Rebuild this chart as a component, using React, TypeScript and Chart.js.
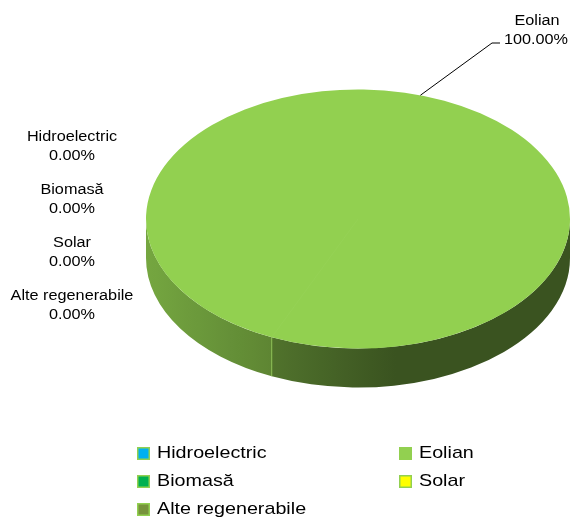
import React, { useEffect, useRef } from 'react';
import { Chart, registerables } from 'chart.js';

Chart.register(...registerables);

// ---- data ----
const categories = ['Hidroelectric', 'Eolian', 'Biomasă', 'Solar', 'Alte regenerabile'];
const values = [0, 100, 0, 0, 0];
const sliceColors = ['#00B0F0', '#92D050', '#00B050', '#FFFF00', '#77933C'];

// ---- style / layout ----
const LEGEND_BORDER = '#92D050';
const TILT = 129.5 / 212;
const DEPTH = 39;
const FONT = '"Liberation Sans", Arial, sans-serif';
const TEXT_STRETCH = 1.16;
const LEADER_ANGLE_SHIFT = -0.12;
const TAU = Math.PI * 2;

const norm = (a: number) => ((a % TAU) + TAU) % TAU;

function rgb(hex: string) {
  const n = parseInt(hex.slice(1), 16);
  return [(n >> 16) & 255, (n >> 8) & 255, n & 255];
}
function shade(hex: string, f: number) {
  const [r, g, b] = rgb(hex);
  const c = (v: number) => Math.max(0, Math.min(255, Math.round(v * f)));
  return `rgb(${c(r)},${c(g)},${c(b)})`;
}

function stretchedText(ctx: CanvasRenderingContext2D, text: string, x: number, y: number, size: number, align: CanvasTextAlign) {
  ctx.save();
  ctx.font = `${size}px ${FONT}`;
  ctx.textBaseline = 'middle';
  ctx.textAlign = align;
  ctx.fillStyle = '#000000';
  ctx.translate(x, y);
  ctx.scale(TEXT_STRETCH, 1);
  ctx.fillText(text, 0, 0);
  ctx.restore();
}

const pie3d = {
  id: 'pie3d',
  beforeDatasetsDraw(chart: any) {
    const arcs = chart.getDatasetMeta(0).data as any[];
    const a0 = arcs[0];
    const cx = a0.x, cy = a0.y, r = a0.outerRadius;
    const ctx: CanvasRenderingContext2D = chart.ctx;
    ctx.save();
    ctx.translate(cx, cy);
    ctx.scale(1, TILT);
    ctx.translate(-cx, -cy);
    const d = DEPTH / TILT;

    const bounds = [0, Math.PI];
    arcs.forEach((a) => {
      const s = norm(a.startAngle);
      if (s > 1e-6 && s < Math.PI - 1e-6) bounds.push(s);
    });
    bounds.sort((p, q) => p - q);
    const segs: { lo: number; hi: number; idx: number }[] = [];
    for (let i = 0; i < bounds.length - 1; i++) {
      const lo = bounds[i], hi = bounds[i + 1];
      if (hi - lo < 1e-6) continue;
      const mid = (lo + hi) / 2;
      const idx = arcs.findIndex((a) => a.circumference > 0 && norm(mid - a.startAngle) < a.circumference);
      if (idx >= 0) segs.push({ lo, hi, idx });
    }
    segs.sort((p, q) => q.hi - p.hi);
    segs.forEach((sg, k) => {
      const xl = cx + r * Math.cos(sg.hi);
      const xr = cx + r * Math.cos(sg.lo);
      const base = sliceColors[sg.idx];
      const g = ctx.createLinearGradient(xl, 0, xr, 0);
      for (let j = 0; j <= 12; j++) {
        const x = xl + ((xr - xl) * j) / 12;
        const f = Math.max(0.4, Math.max(0.49, 0.8 - 0.00126 * (x - (cx - r))) - 0.09 * k);
        g.addColorStop(j / 12, shade(base, f));
      }
      ctx.beginPath();
      ctx.arc(cx, cy, r, sg.lo, sg.hi);
      ctx.arc(cx, cy + d, r, sg.hi, sg.lo, true);
      ctx.closePath();
      ctx.fillStyle = g;
      ctx.fill();
    });
    // seams on the side
    const seen: number[] = [];
    arcs.forEach((a) => {
      const s = norm(a.startAngle);
      if (s <= 0 || s >= Math.PI) return;
      if (seen.some((v) => Math.abs(v - s) < 1e-6)) return;
      seen.push(s);
      const x = cx + r * Math.cos(s);
      const y = cy + r * Math.sin(s);
      ctx.beginPath();
      ctx.moveTo(x, y);
      ctx.lineTo(x, y + d);
      ctx.strokeStyle = shade(sliceColors[1], 0.97);
      ctx.lineWidth = 1;
      ctx.stroke();
    });
  },
  afterDatasetsDraw(chart: any) {
    const arcs = chart.getDatasetMeta(0).data as any[];
    const a0 = arcs[0];
    const cx = a0.x, cy = a0.y, r = a0.outerRadius;
    const ctx: CanvasRenderingContext2D = chart.ctx;
    const s = a0.startAngle;
    ctx.beginPath();
    ctx.moveTo(cx, cy);
    ctx.lineTo(cx + r * Math.cos(s), cy + r * Math.sin(s));
    ctx.strokeStyle = 'rgba(255,255,255,0.035)';
    ctx.lineWidth = 1;
    ctx.stroke();
    ctx.restore();
  },
};

const labelsPlugin = {
  id: 'labels3d',
  afterDraw(chart: any) {
    const ctx: CanvasRenderingContext2D = chart.ctx;
    const arcs = chart.getDatasetMeta(0).data as any[];
    const total = values.reduce((p, v) => p + v, 0);
    let zi = 0;
    values.forEach((v, i) => {
      const pct = ((v / total) * 100).toFixed(2) + '%';
      if (v > 0) {
        const a = arcs[i];
        const m = (a.startAngle + a.endAngle) / 2 + LEADER_ANGLE_SHIFT;
        const px = a.x + a.outerRadius * Math.cos(m);
        const py = a.y + a.outerRadius * TILT * Math.sin(m);
        ctx.save();
        ctx.beginPath();
        ctx.moveTo(px, py);
        ctx.lineTo(492, 43);
        ctx.lineTo(500, 43);
        ctx.strokeStyle = '#000';
        ctx.lineWidth = 1;
        ctx.stroke();
        ctx.restore();
        stretchedText(ctx, categories[i], 537, 21, 14, 'center');
        stretchedText(ctx, pct, 536, 40, 14, 'center');
      } else {
        const y = 137 + 53 * zi;
        stretchedText(ctx, categories[i], 72, y, 14, 'center');
        stretchedText(ctx, pct, 72, y + 19, 14, 'center');
        zi++;
      }
    });

    // legend (2 columns, row-major)
    const colX = [137, 399];
    categories.forEach((c, i) => {
      const col = i % 2;
      const row = Math.floor(i / 2);
      const x = colX[col];
      const y = 453 + 28 * row;
      ctx.save();
      ctx.fillStyle = sliceColors[i];
      ctx.fillRect(x, y - 6, 13, 13);
      ctx.strokeStyle = LEGEND_BORDER;
      ctx.lineWidth = 1.5;
      ctx.strokeRect(x + 0.75, y - 5.25, 11.5, 11.5);
      ctx.restore();
      stretchedText(ctx, c, x + 20, y, 17, 'left');
    });
  },
};

export default function App() {
  const ref = useRef<HTMLCanvasElement>(null);
  useEffect(() => {
    if (!ref.current) return;
    const chart = new Chart(ref.current, {
      type: 'pie',
      data: {
        labels: categories,
        datasets: [{ data: values, backgroundColor: sliceColors, borderWidth: 0 }],
      },
      options: {
        responsive: false,
        animation: false,
        devicePixelRatio: 1,
        rotation: 204,
        events: [],
        layout: { padding: { left: 146, right: 2, top: 7, bottom: 87 } },
        plugins: { legend: { display: false }, tooltip: { enabled: false } },
      },
      plugins: [pie3d, labelsPlugin],
    } as any);
    return () => chart.destroy();
  }, []);
  return (
    <div style={{ position: 'absolute', left: 0, top: 0, width: 572, height: 518, background: '#fff' }}>
      <canvas ref={ref} width={572} height={518} />
    </div>
  );
}
